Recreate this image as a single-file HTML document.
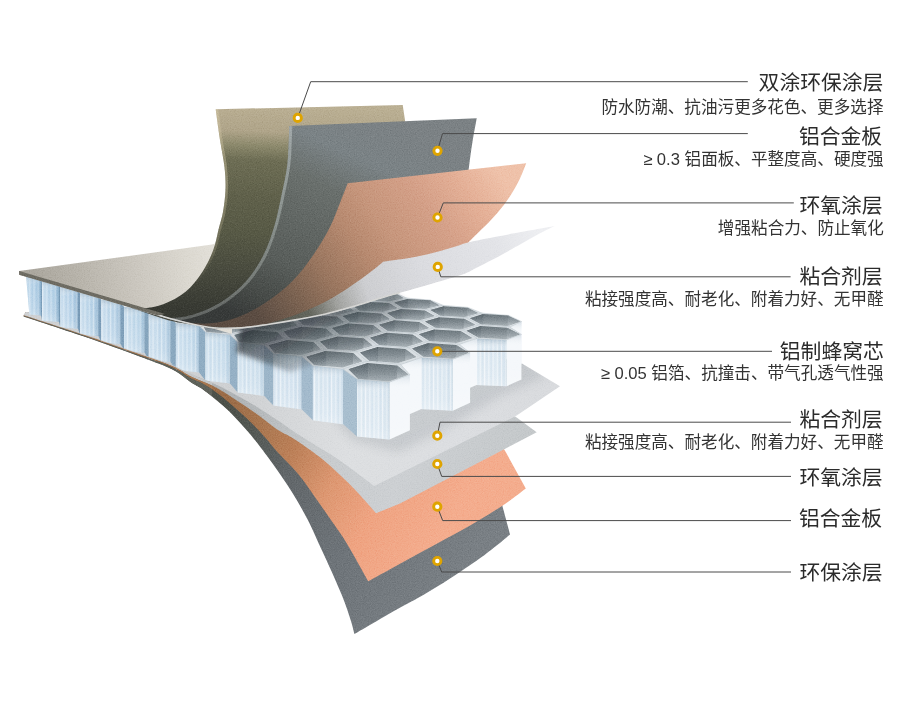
<!DOCTYPE html>
<html lang="zh-CN"><head><meta charset="utf-8"><title>铝蜂窝板结构图</title>
<style>
html,body{margin:0;padding:0;background:#fff}
body{width:900px;height:720px;position:relative;overflow:hidden;font-family:"Liberation Sans","Noto Sans CJK SC",sans-serif}
svg{position:absolute;left:0;top:0;display:block}
.lt{font-family:"Liberation Sans","Noto Sans CJK SC",sans-serif;font-size:20.8px;fill:#2b2b2b}
.ls{font-family:"Liberation Sans","Noto Sans CJK SC",sans-serif;font-size:16.6px;fill:#333}
</style></head><body>
<svg id="art" width="900" height="720" viewBox="0 0 900 720">
<defs><linearGradient id="gDG" gradientUnits="userSpaceOnUse" x1="235" y1="400" x2="470" y2="560" ><stop offset="0" stop-color="#4d514a"/><stop offset="0.12" stop-color="#555a56"/><stop offset="0.3" stop-color="#62676a"/><stop offset="0.6" stop-color="#6e7479"/><stop offset="1" stop-color="#7a8085"/></linearGradient><linearGradient id="gCB" gradientUnits="userSpaceOnUse" x1="230" y1="395" x2="450" y2="520" ><stop offset="0" stop-color="#9c6d48"/><stop offset="0.15" stop-color="#a8764f"/><stop offset="0.33" stop-color="#bd8159"/><stop offset="0.52" stop-color="#dd9872"/><stop offset="0.72" stop-color="#efa482"/><stop offset="1" stop-color="#f4ad8e"/></linearGradient><linearGradient id="gLG" gradientUnits="userSpaceOnUse" x1="240" y1="395" x2="520" y2="460" ><stop offset="0" stop-color="#b0b4b6"/><stop offset="0.3" stop-color="#c8cbcd"/><stop offset="0.6" stop-color="#cdd0d3"/><stop offset="1" stop-color="#c5c9cb"/></linearGradient><linearGradient id="gWB" gradientUnits="userSpaceOnUse" x1="240" y1="390" x2="550" y2="400" ><stop offset="0" stop-color="#cfd1d3"/><stop offset="0.35" stop-color="#dddfe1"/><stop offset="0.7" stop-color="#dcdee1"/><stop offset="1" stop-color="#d9dbde"/></linearGradient><filter id="fB4" x="-20%" y="-20%" width="140%" height="140%"><feGaussianBlur stdDeviation="5"/></filter><filter id="fB2" x="-20%" y="-20%" width="140%" height="140%"><feGaussianBlur stdDeviation="2.5"/></filter><clipPath id="cWB"><path d="M23.6 314.9C33.5 318.1 64.1 327.9 83.3 334.3C102.5 340.7 126.5 349.1 138.9 353.3C151.3 357.5 151.7 357.4 157.8 359.6C163.9 361.8 170.2 364 175.6 366.4C181 368.8 183.9 371.1 190 373.8C196.1 376.5 204.8 379.5 212.2 382.8C219.6 386.1 227 389.9 234.4 393.9C241.8 397.9 249.3 402.2 256.7 406.7C264.1 411.2 273.3 417.4 278.9 421.1C284.4 424.8 284.6 425.3 290 428.9C295.4 432.5 303.1 437.5 311.1 442.5C319.1 447.5 329.5 453.4 337.8 459C346.1 464.6 354.8 471.5 360.9 476C367 480.5 372 484.4 374.2 486.1L400 473.3L516.7 415.6L560 386.2L521.1 362.9L400 330L240 330L26 312Z"/></clipPath><linearGradient id="hF" gradientUnits="userSpaceOnUse" x1="0" y1="0" x2="8.5" y2="0" spreadMethod="repeat"><stop offset="0" stop-color="#ffffff" stop-opacity="0.32"/><stop offset="0.3" stop-color="#6f9dc0" stop-opacity="0.1"/><stop offset="0.5" stop-color="#ffffff" stop-opacity="0.26"/><stop offset="0.78" stop-color="#6f9dc0" stop-opacity="0.15"/><stop offset="1" stop-color="#ffffff" stop-opacity="0.32"/></linearGradient><linearGradient id="hFs" gradientUnits="objectBoundingBox" x1="0" y1="0" x2="0" y2="1" ><stop offset="0" stop-color="#7f98ab" stop-opacity="0.5"/><stop offset="0.22" stop-color="#ffffff" stop-opacity="0"/><stop offset="0.8" stop-color="#ffffff" stop-opacity="0.12"/><stop offset="1" stop-color="#ffffff" stop-opacity="0.3"/></linearGradient><linearGradient id="hFx" gradientUnits="objectBoundingBox" x1="0" y1="0" x2="1" y2="0" ><stop offset="0" stop-color="#ffffff" stop-opacity="0.35"/><stop offset="0.55" stop-color="#ffffff" stop-opacity="0"/><stop offset="0.8" stop-color="#4f7fa5" stop-opacity="0.12"/><stop offset="1" stop-color="#3f6f96" stop-opacity="0.4"/></linearGradient><linearGradient id="hIn" gradientUnits="objectBoundingBox" x1="0" y1="0" x2="0" y2="1" ><stop offset="0" stop-color="#6b767c"/><stop offset="0.5" stop-color="#858f95"/><stop offset="1" stop-color="#a8b1b6"/></linearGradient><linearGradient id="hInL" gradientUnits="objectBoundingBox" x1="0" y1="0" x2="0" y2="1" ><stop offset="0" stop-color="#5c676d"/><stop offset="0.5" stop-color="#747f86"/><stop offset="1" stop-color="#98a2a8"/></linearGradient><linearGradient id="hInR" gradientUnits="objectBoundingBox" x1="0" y1="0" x2="0" y2="1" ><stop offset="0" stop-color="#7d888e"/><stop offset="0.5" stop-color="#949ea4"/><stop offset="1" stop-color="#b7bfc4"/></linearGradient><clipPath id="cHon"><path d="M620 226.1L554.7 226.1C552.2 227.3 544.5 231 539.6 233.6C534.7 236.2 530 238.9 525.3 241.6C520.5 244.3 516.4 246.6 511.1 249.6C505.8 252.6 499.2 256.2 493.3 259.3C487.4 262.4 480.6 265.7 475.6 268.2C470.6 270.7 470.2 271.7 463.1 274.2C456.1 276.7 443.8 280.1 433.3 283.2C422.8 286.3 408.9 290.2 400 292.8C391.1 295.4 388 296.2 380 298.6C372 301 361.5 304.5 352.2 307.2C342.9 309.9 333.6 312.5 324.4 314.6C315.1 316.7 305.9 318.3 296.7 320C287.4 321.7 278.2 323.2 268.9 324.6C259.6 326 250.4 327.7 241.1 328.3C231.8 328.9 222.6 329.1 213.3 328.2C204.1 327.3 194.8 325 185.6 322.9C176.3 320.8 167.1 318.1 157.8 315.5C148.5 312.9 134.6 308.8 130 307.5L26.1 276.8L29.6 317L29.6 720L620 720Z"/></clipPath><linearGradient id="gHS" gradientUnits="userSpaceOnUse" x1="300" y1="300" x2="345" y2="372" ><stop offset="0" stop-color="#2f363b" stop-opacity="0.8"/><stop offset="0.45" stop-color="#3a4247" stop-opacity="0.5"/><stop offset="1" stop-color="#596066" stop-opacity="0"/></linearGradient><linearGradient id="gFP" gradientUnits="userSpaceOnUse" x1="25" y1="285" x2="225" y2="255" ><stop offset="0" stop-color="#a9a59c"/><stop offset="0.25" stop-color="#b7b3aa"/><stop offset="0.55" stop-color="#cbc7bf"/><stop offset="0.8" stop-color="#dbd8d0"/><stop offset="1" stop-color="#e5e2db"/></linearGradient><clipPath id="cTop"><path transform="translate(0,-0.8)" d="M554.7 226.1C552.2 227.3 544.5 231 539.6 233.6C534.7 236.2 530 238.9 525.3 241.6C520.5 244.3 516.4 246.6 511.1 249.6C505.8 252.6 499.2 256.2 493.3 259.3C487.4 262.4 480.6 265.7 475.6 268.2C470.6 270.7 470.2 271.7 463.1 274.2C456.1 276.7 443.8 280.1 433.3 283.2C422.8 286.3 408.9 290.2 400 292.8C391.1 295.4 388 296.2 380 298.6C372 301 361.5 304.5 352.2 307.2C342.9 309.9 333.6 312.5 324.4 314.6C315.1 316.7 305.9 318.3 296.7 320C287.4 321.7 278.2 323.2 268.9 324.6C259.6 326 250.4 327.7 241.1 328.3C231.8 328.9 222.6 329.1 213.3 328.2C204.1 327.3 194.8 325 185.6 322.9C176.3 320.8 167.1 318.1 157.8 315.5C148.5 312.9 134.6 308.8 130 307.5L19.1 274.8L0 269L0 0L900 0L900 225Z"/></clipPath><linearGradient id="gTan" gradientUnits="userSpaceOnUse" x1="300" y1="106" x2="292" y2="312" ><stop offset="0" stop-color="#bbb094"/><stop offset="0.13" stop-color="#b0a58a"/><stop offset="0.2" stop-color="#8d8a6d"/><stop offset="0.27" stop-color="#6e6e55"/><stop offset="0.45" stop-color="#60614b"/><stop offset="0.62" stop-color="#585a46"/><stop offset="0.8" stop-color="#4a4c3f"/><stop offset="0.93" stop-color="#3e4037"/><stop offset="1" stop-color="#383a33"/></linearGradient><clipPath id="cTan"><path d="M215.7 109.3C216.4 114.4 218.5 130.4 220 140C221.5 149.6 223.6 158.7 224.5 167C225.4 175.3 225.8 182.5 225.5 190C225.2 197.5 224.1 205.7 223 212C221.9 218.3 220.5 221.7 218.9 228C217.3 234.3 216.1 242.6 213.3 250C210.5 257.4 206.8 265.2 202.2 272.2C197.6 279.1 192.1 286.4 185.6 291.7C179.1 297 170.7 301.4 163.3 304.2C155.9 307 148.7 308.3 141.1 308.3C133.5 308.3 121.8 304.7 118 304L19 275L19 340L420 340L408 140L402.7 105Z"/></clipPath><linearGradient id="gTanH" gradientUnits="userSpaceOnUse" x1="0" y1="105" x2="0" y2="285" ><stop offset="0" stop-color="#d6caa9" stop-opacity="0.5"/><stop offset="0.5" stop-color="#b5ad8e" stop-opacity="0.45"/><stop offset="0.8" stop-color="#a9a285" stop-opacity="0.3"/><stop offset="1" stop-color="#a9a285" stop-opacity="0"/></linearGradient><linearGradient id="gGr" gradientUnits="userSpaceOnUse" x1="390" y1="120" x2="290" y2="340" ><stop offset="0" stop-color="#7c8285"/><stop offset="0.2" stop-color="#7b8386"/><stop offset="0.36" stop-color="#6a706d"/><stop offset="0.72" stop-color="#595e5b"/><stop offset="0.88" stop-color="#474b48"/><stop offset="1" stop-color="#373a39"/></linearGradient><clipPath id="cGray"><path d="M289.3 126C289 132.2 288.7 151.8 287.5 163C286.3 174.2 284.2 182.5 282 193C279.8 203.5 277.5 215.6 274.4 226C271.3 236.4 267.9 246.5 263.3 255.6C258.7 264.7 253.2 273.2 246.7 280.6C240.2 288 232.3 294.7 224.4 300C216.5 305.3 208.2 309.5 199.4 312.5C190.6 315.5 180.8 318 171.7 318.1C162.6 318.2 149.4 313.9 145 313L60 290L60 345L460 345C460.8 320.8 463.5 229.4 465 200C466.5 170.6 467.6 177.8 468.8 168.3C470 158.8 471 151.3 472.3 143C473.6 134.7 476 122.4 476.7 118.3Z"/></clipPath><linearGradient id="gGrH" gradientUnits="userSpaceOnUse" x1="0" y1="126" x2="0" y2="322" ><stop offset="0" stop-color="#aab1b2" stop-opacity="0.8"/><stop offset="0.5" stop-color="#98a09c" stop-opacity="0.75"/><stop offset="0.85" stop-color="#858a86" stop-opacity="0.7"/><stop offset="1" stop-color="#7d817e" stop-opacity="0.6"/></linearGradient><linearGradient id="gCu" gradientUnits="userSpaceOnUse" x1="500" y1="175" x2="270" y2="335" ><stop offset="0" stop-color="#efc2aa"/><stop offset="0.13" stop-color="#e4b097"/><stop offset="0.27" stop-color="#d5a189"/><stop offset="0.45" stop-color="#c6967c"/><stop offset="0.56" stop-color="#b78a70"/><stop offset="0.72" stop-color="#99765f"/><stop offset="0.84" stop-color="#7d6452"/><stop offset="0.93" stop-color="#6a574a"/><stop offset="1" stop-color="#5b4c42"/></linearGradient><linearGradient id="gWh" gradientUnits="userSpaceOnUse" x1="540" y1="230" x2="250" y2="330" ><stop offset="0" stop-color="#eeeff2"/><stop offset="0.15" stop-color="#e3e4e8"/><stop offset="0.4" stop-color="#dbdce0"/><stop offset="0.6" stop-color="#cdced1"/><stop offset="0.7" stop-color="#a3a4a1"/><stop offset="0.8" stop-color="#64665d"/><stop offset="1" stop-color="#4c4e46"/></linearGradient><filter id="grain" x="0" y="0" width="100%" height="100%" color-interpolation-filters="sRGB"><feTurbulence type="fractalNoise" baseFrequency="0.85" numOctaves="2" seed="7" result="n"/><feColorMatrix in="n" type="matrix" values="0.33 0.33 0.33 0 0  0.33 0.33 0.33 0 0  0.33 0.33 0.33 0 0  0 0 0 0 1"/><feComponentTransfer><feFuncR type="linear" slope="2.2" intercept="-0.6"/><feFuncG type="linear" slope="2.2" intercept="-0.6"/><feFuncB type="linear" slope="2.2" intercept="-0.6"/></feComponentTransfer></filter></defs>
<path fill="url(#gDG)" d="M23.6 316.5C33.5 319.8 64.1 329.7 83.3 336.3C102.5 342.9 126.5 351.7 138.9 356.2C151.3 360.7 151.7 360.8 157.8 363.3C163.9 365.8 170.2 368.1 175.6 371.2C181 374.3 185.8 378.8 190 381.7C194.2 384.6 197.4 385.8 201.1 388.3C204.8 390.8 208.5 393.7 212.2 396.7C215.9 399.7 219.6 402.8 223.3 406.1C227 409.4 230.7 412.9 234.4 416.7C238.1 420.5 241.9 424.6 245.6 428.9C249.3 433.1 251.9 436 256.7 442.2C261.5 448.4 268.5 457.8 274.5 466.2C280.5 474.6 287 484 292.5 492.9C298 501.8 303.3 511.2 307.6 519.6C311.9 528 314.8 534.9 318.5 543C322.2 551.1 325.9 558.8 330 568C334.1 577.2 339.6 589.4 343 598C346.4 606.6 348.6 613.6 350.5 619.6C352.4 625.6 353.8 631.7 354.4 634.1C361.4 630 385.2 616 396.7 609.5C408.2 603 414.4 600.2 423.3 595C432.2 589.8 440.7 584.5 450 578.5C459.3 572.5 471.1 564.5 478.9 559C486.7 553.5 491.8 549.3 497 545.2C502.2 541.1 507.8 536.2 510 534.4L501.7 503.3L400 440L240 360L26 312Z"/>
<path fill="url(#gCB)" d="M23.6 315.8C33.5 319.1 64.1 328.9 83.3 335.4C102.5 341.9 126.5 350.5 138.9 354.9C151.3 359.3 151.7 359.2 157.8 361.6C163.9 364 170.2 366.3 175.6 369C181 371.7 185.8 375.5 190 377.8C194.2 380.1 197.4 380.9 201.1 382.8C204.8 384.7 208.5 386.9 212.2 389.4C215.9 391.9 219.6 394.8 223.3 397.8C227 400.8 230.7 404 234.4 407.2C238.1 410.4 241.9 413.7 245.6 417.2C249.3 420.7 253 424.4 256.7 428.3C260.4 432.2 264.5 436.8 267.8 440.6C271.1 444.4 271.3 445.3 276.5 451C281.7 456.7 292.2 466.8 299 475C305.8 483.2 311.5 492.2 317 500C322.5 507.8 327.6 515.2 332 521.5C336.4 527.8 339.3 531.5 343.3 537.8C347.3 544.1 351.7 551.9 355.8 559.1C359.9 566.4 366.1 577.6 368.2 581.3C372.8 578.8 386.8 571 396 566C405.2 561 414 556.2 423.3 551.1C432.6 546 442.7 540.6 452 535.5C461.3 530.4 470.1 525.5 478.9 520.2C487.7 515 497.2 509.3 505 504C512.8 498.7 522.3 491.2 525.8 488.6L506 452.5L503.3 448L400 420L240 360L26 312Z"/>
<path fill="url(#gLG)" d="M23.6 315.3C33.5 318.6 64.1 328.4 83.3 334.8C102.5 341.2 126.5 349.7 138.9 354C151.3 358.3 151.7 358.2 157.8 360.5C163.9 362.8 170.2 365 175.6 367.6C181 370.2 183.9 373.1 190 376.1C196.1 379.1 204.8 381.8 212.2 385.6C219.6 389.4 227 394.2 234.4 398.9C241.8 403.6 249.3 408.6 256.7 413.9C264.1 419.2 272.8 426.5 278.9 430.6C285 434.7 286.4 434.1 293.3 438.5C300.2 442.9 311.1 450.2 320 457.3C328.9 464.4 339.3 474.2 346.7 481.3C354.1 488.4 359.5 494.7 364.4 500C369.3 505.3 374.1 511.1 376 513.3L400 503.6L536.7 432.2L515.6 416.7L400 380L240 350L26 312Z"/>
<path fill="url(#gWB)" d="M23.6 314.9C33.5 318.1 64.1 327.9 83.3 334.3C102.5 340.7 126.5 349.1 138.9 353.3C151.3 357.5 151.7 357.4 157.8 359.6C163.9 361.8 170.2 364 175.6 366.4C181 368.8 183.9 371.1 190 373.8C196.1 376.5 204.8 379.5 212.2 382.8C219.6 386.1 227 389.9 234.4 393.9C241.8 397.9 249.3 402.2 256.7 406.7C264.1 411.2 273.3 417.4 278.9 421.1C284.4 424.8 284.6 425.3 290 428.9C295.4 432.5 303.1 437.5 311.1 442.5C319.1 447.5 329.5 453.4 337.8 459C346.1 464.6 354.8 471.5 360.9 476C367 480.5 372 484.4 374.2 486.1L400 473.3L516.7 415.6L560 386.2L521.1 362.9L400 330L240 330L26 312Z"/>
<g clip-path="url(#cWB)"><path filter="url(#fB4)" fill="#7f878e" opacity="0.21" d="M300 380L520 352L546 376L500 396L440 432L398 452L352 440Z"/></g>
<g id="honey" clip-path="url(#cHon)"><path fill="#799cb7" d="M83.5 238.2L81.7 240.6L81.7 269.9L83.5 266.9Z"/>
<path fill="#769ab6" d="M68.5 242.6L66.3 245.2L66.3 275.6L68.5 272.4Z"/>
<path fill="#7397b4" d="M52.4 247.2L49.7 250L49.7 281.7L52.4 278.3Z"/>
<path fill="#7095b3" d="M35.1 252.2L32 255.2L32 288.3L35.1 284.6Z"/>
<path fill="#6f94b2" d="M16.5 257.5L12.8 260.8L12.8 295.5L16.5 291.4Z"/>
<path fill="#d9dfe3" stroke="#bcc6cc" stroke-width="0.5" d="M288.3 274.6L272.1 277.8L250.8 276.7L246.7 272.5L262.8 269.5L281.5 270.8Z"/>
<path fill="url(#hIn)" d="M285 274.4L271.3 277.1L253.5 276.2L249.9 272.6L263.5 270.1L280.7 271Z"/>
<path fill="url(#hInL)" d="M249.9 272.6L263.5 270.1L263.5 276.7L253.5 276.2Z"/>
<path fill="url(#hInR)" d="M280.7 271L285 274.4L280.7 275.2Z"/>
<path fill="#6f94b2" d="M-3.6 263.3L-5.7 266.5L-5.7 302.7L-3.6 298.8Z"/>
<path fill="#b4d2e9" d="M-5.7 266.5L9.5 267.8L9.5 304.1L-5.7 302.7Z"/><path fill="url(#hF)" d="M-5.7 266.5L9.5 267.8L9.5 304.1L-5.7 302.7Z"/><path fill="url(#hFs)" d="M-5.7 266.5L9.5 267.8L9.5 304.1L-5.7 302.7Z"/><path fill="url(#hFx)" opacity="1.10" d="M-5.7 266.5L9.5 267.8L9.5 304.1L-5.7 302.7Z"/>
<path fill="#d9dfe3" stroke="#bcc6cc" stroke-width="0.5" d="M315 279.9L298.7 283.3L276.4 282.1L271.3 277.6L287.6 274.4L307.2 275.9Z"/>
<path fill="url(#hIn)" d="M311.4 279.7L297.7 282.6L279.1 281.6L274.8 277.8L288.4 275.1L306.4 276Z"/>
<path fill="url(#hInL)" d="M274.8 277.8L288.4 275.1L288.4 282.1L279.1 281.6Z"/>
<path fill="url(#hInR)" d="M306.4 276L311.4 279.7L306.4 280.7Z"/>
<path fill="#6f94b2" d="M9.1 267.6L9.2 271.1L9.2 308.2L9.1 303.9Z"/>
<path fill="#b4d2e9" d="M9.2 271.1L25.1 272.5L25.1 309.7L9.2 308.2Z"/><path fill="url(#hF)" d="M9.2 271.1L25.1 272.5L25.1 309.7L9.2 308.2Z"/><path fill="url(#hFs)" d="M9.2 271.1L25.1 272.5L25.1 309.7L9.2 308.2Z"/><path fill="url(#hFx)" opacity="1.05" d="M9.2 271.1L25.1 272.5L25.1 309.7L9.2 308.2Z"/>
<path fill="#d9dfe3" stroke="#bcc6cc" stroke-width="0.5" d="M277.5 282L260.3 285.5L238.2 284.3L234.2 279.7L251.2 276.5L272.5 277.6Z"/>
<path fill="url(#hIn)" d="M274 281.9L259.6 284.8L241 283.7L237.6 279.9L251.9 277.1L269.8 278.1Z"/>
<path fill="url(#hInL)" d="M237.6 279.9L251.9 277.1L251.9 284.3L241 283.7Z"/>
<path fill="url(#hInR)" d="M269.8 278.1L274 281.9L269.8 282.7Z"/>
<path fill="#d9dfe3" stroke="#bcc6cc" stroke-width="0.5" d="M343.5 285.6L327.2 289.2L303.8 288L297.8 283.1L314.1 279.7L334.7 281.3Z"/>
<path fill="url(#hIn)" d="M339.8 285.4L326.1 288.4L306.5 287.4L301.4 283.3L315.1 280.4L334 281.4Z"/>
<path fill="url(#hInL)" d="M301.4 283.3L315.1 280.4L315.1 287.8L306.5 287.4Z"/>
<path fill="url(#hInR)" d="M334 281.4L339.8 285.4L334 286.7Z"/>
<path fill="#6f94b2" d="M24.6 272.3L25.1 276.1L25.1 314.1L24.6 309.5Z"/>
<path fill="#b4d2e9" d="M25.1 276.1L41.7 277.5L41.7 315.6L25.1 314.1Z"/><path fill="url(#hF)" d="M25.1 276.1L41.7 277.5L41.7 315.6L25.1 314.1Z"/><path fill="url(#hFs)" d="M25.1 276.1L41.7 277.5L41.7 315.6L25.1 314.1Z"/><path fill="url(#hFx)" opacity="1.00" d="M25.1 276.1L41.7 277.5L41.7 315.6L25.1 314.1Z"/>
<path fill="#d9dfe3" stroke="#bcc6cc" stroke-width="0.5" d="M305 287.9L287.7 291.6L264.5 290.3L259.5 285.4L276.7 281.9L299 283.1Z"/>
<path fill="url(#hIn)" d="M301.3 287.7L286.8 290.8L267.3 289.7L263.1 285.6L277.6 282.6L296.3 283.6Z"/>
<path fill="url(#hInL)" d="M263.1 285.6L277.6 282.6L277.6 290.3L267.3 289.7Z"/>
<path fill="url(#hInR)" d="M296.3 283.6L301.3 287.7L296.3 288.7Z"/>
<path fill="#d9dfe3" stroke="#bcc6cc" stroke-width="0.5" d="M374.3 291.7L357.9 295.7L333.4 294.2L326.3 289.1L342.6 285.4L364.3 287.1Z"/>
<path fill="url(#hIn)" d="M370.4 291.5L356.6 294.8L336.1 293.6L330.1 289.3L343.8 286.2L363.6 287.3Z"/>
<path fill="url(#hInL)" d="M330.1 289.3L343.8 286.2L343.8 294.1L336.1 293.6Z"/>
<path fill="url(#hInR)" d="M363.6 287.3L370.4 291.5L363.6 293.1Z"/>
<path fill="#7296b3" d="M41.2 277.3L42.1 281.4L42.1 320.4L41.2 315.5Z"/>
<path fill="#b7d4ea" d="M42.1 281.4L59.5 282.9L59.5 322L42.1 320.4Z"/><path fill="url(#hF)" d="M42.1 281.4L59.5 282.9L59.5 322L42.1 320.4Z"/><path fill="url(#hFs)" d="M42.1 281.4L59.5 282.9L59.5 322L42.1 320.4Z"/><path fill="url(#hFx)" opacity="0.95" d="M42.1 281.4L59.5 282.9L59.5 322L42.1 320.4Z"/>
<path fill="#d9dfe3" stroke="#bcc6cc" stroke-width="0.5" d="M265.7 290.2L247.4 294L224.3 292.7L220.5 287.6L238.6 284.1L260.7 285.3Z"/>
<path fill="url(#hIn)" d="M262 290L246.6 293.2L227.3 292.1L224 287.8L239.3 284.8L257.9 285.9Z"/>
<path fill="url(#hInL)" d="M224 287.8L239.3 284.8L239.3 292.8L227.3 292.1Z"/>
<path fill="url(#hInR)" d="M257.9 285.9L262 290L257.9 290.9Z"/>
<path fill="#d9dfe3" stroke="#bcc6cc" stroke-width="0.5" d="M334.6 294.2L317.2 298.2L292.8 296.7L286.8 291.4L304.1 287.7L327.5 289Z"/>
<path fill="url(#hIn)" d="M330.7 293.9L316.1 297.3L295.7 296.1L290.6 291.6L305.1 288.5L324.8 289.6Z"/>
<path fill="url(#hInL)" d="M290.6 291.6L305.1 288.5L305.1 296.7L295.7 296.1Z"/>
<path fill="url(#hInR)" d="M324.8 289.6L330.7 293.9L324.8 295.3Z"/>
<path fill="#d9dfe3" stroke="#bcc6cc" stroke-width="0.5" d="M407.5 298.4L391.2 302.6L365.3 301L357 295.5L373.3 291.5L396.2 293.3Z"/>
<path fill="url(#hIn)" d="M403.4 298.1L389.7 301.6L368 300.4L360.9 295.7L374.7 292.4L395.5 293.5Z"/>
<path fill="url(#hInL)" d="M360.9 295.7L374.7 292.4L374.7 300.8L368 300.4Z"/>
<path fill="url(#hInR)" d="M395.5 293.5L403.4 298.1L395.5 300.2Z"/>
<path fill="#7599b5" d="M58.9 282.7L60.4 287L60.4 327.1L58.9 321.8Z"/>
<path fill="#bad5eb" d="M60.4 287L78.6 288.7L78.6 328.9L60.4 327.1Z"/><path fill="url(#hF)" d="M60.4 287L78.6 288.7L78.6 328.9L60.4 327.1Z"/><path fill="url(#hFs)" d="M60.4 287L78.6 288.7L78.6 328.9L60.4 327.1Z"/><path fill="url(#hFx)" opacity="0.89" d="M60.4 287L78.6 288.7L78.6 328.9L60.4 327.1Z"/>
<path fill="#d9dfe3" stroke="#bcc6cc" stroke-width="0.5" d="M294 296.7L275.6 300.8L251.4 299.3L246.6 293.9L264.8 290L288 291.4Z"/>
<path fill="url(#hIn)" d="M290.2 296.4L274.7 299.9L254.4 298.6L250.3 294.1L265.7 290.8L285.2 292Z"/>
<path fill="url(#hInL)" d="M250.3 294.1L265.7 290.8L265.7 299.3L254.4 298.6Z"/>
<path fill="url(#hInR)" d="M285.2 292L290.2 296.4L285.2 297.5Z"/>
<path fill="#d9dfe3" stroke="#bcc6cc" stroke-width="0.5" d="M366.5 301L349.2 305.3L323.4 303.7L316.3 298L333.7 294L358.2 295.4Z"/>
<path fill="url(#hIn)" d="M362.4 300.7L347.9 304.3L326.3 303L320.3 298.2L334.8 294.8L355.5 296Z"/>
<path fill="url(#hInL)" d="M320.3 298.2L334.8 294.8L334.8 303.5L326.3 303Z"/>
<path fill="url(#hInR)" d="M355.5 296L362.4 300.7L355.5 302.4Z"/>
<path fill="#d9dfe3" stroke="#bcc6cc" stroke-width="0.5" d="M443.4 305.5L427.2 310.1L399.9 308.4L390.1 302.4L406.4 298.1L430.7 300.1Z"/>
<path fill="url(#hIn)" d="M439.1 305.3L425.5 309.1L402.6 307.7L394.3 302.6L408 299L429.9 300.3Z"/>
<path fill="url(#hInL)" d="M394.3 302.6L408 299L408 308L402.6 307.7Z"/>
<path fill="url(#hInR)" d="M429.9 300.3L439.1 305.3L429.9 307.8Z"/>
<path fill="#799bb7" d="M78 288.5L80 293.1L80 334.3L78 328.7Z"/>
<path fill="#bdd7eb" d="M80 293.1L99.1 294.9L99.1 336.3L80 334.3Z"/><path fill="url(#hF)" d="M80 293.1L99.1 294.9L99.1 336.3L80 334.3Z"/><path fill="url(#hFs)" d="M80 293.1L99.1 294.9L99.1 336.3L80 334.3Z"/><path fill="url(#hFx)" opacity="0.83" d="M80 293.1L99.1 294.9L99.1 336.3L80 334.3Z"/>
<path fill="#d9dfe3" stroke="#bcc6cc" stroke-width="0.5" d="M252.6 299.2L233.1 303.4L209 301.9L205.5 296.3L224.7 292.4L247.8 293.8Z"/>
<path fill="url(#hIn)" d="M248.8 299L232.4 302.5L212.2 301.2L209.2 296.5L225.4 293.2L244.8 294.4Z"/>
<path fill="url(#hInL)" d="M209.2 296.5L225.4 293.2L225.4 302.1L212.2 301.2Z"/>
<path fill="url(#hInR)" d="M244.8 294.4L248.8 299L244.8 299.8Z"/>
<path fill="#d9dfe3" stroke="#bcc6cc" stroke-width="0.5" d="M324.7 303.6L306.2 308.1L280.6 306.4L274.7 300.6L293.1 296.5L317.5 297.9Z"/>
<path fill="url(#hIn)" d="M320.6 303.4L305.1 307.1L283.7 305.7L278.7 300.8L294.1 297.3L314.7 298.6Z"/>
<path fill="url(#hInL)" d="M278.7 300.8L294.1 297.3L294.1 306.4L283.7 305.7Z"/>
<path fill="url(#hInR)" d="M314.7 298.6L320.6 303.4L314.7 304.8Z"/>
<path fill="#d9dfe3" stroke="#bcc6cc" stroke-width="0.5" d="M401.2 308.3L383.9 313L356.7 311.3L348.2 305.1L365.5 300.8L391.4 302.3Z"/>
<path fill="url(#hIn)" d="M396.9 308.1L382.3 312L359.6 310.5L352.3 305.3L366.9 301.7L388.7 303Z"/>
<path fill="url(#hInL)" d="M352.3 305.3L366.9 301.7L366.9 311L359.6 310.5Z"/>
<path fill="url(#hInR)" d="M388.7 303L396.9 308.1L388.7 310.2Z"/>
<path fill="#d9dfe3" stroke="#bcc6cc" stroke-width="0.5" d="M482.5 313.3L466.5 318.3L437.5 316.4L426.1 309.9L442.3 305.3L468 307.4Z"/>
<path fill="url(#hIn)" d="M477.9 313L464.4 317.2L440.2 315.6L430.5 310.1L444.1 306.3L467.3 307.7Z"/>
<path fill="url(#hInL)" d="M430.5 310.1L444.1 306.3L444.1 315.9L440.2 315.6Z"/>
<path fill="url(#hInR)" d="M467.3 307.7L477.9 313L467.3 316.3Z"/>
<path fill="#7d9eb9" d="M98.5 294.7L101.2 299.7L101.2 342.1L98.5 336.1Z"/>
<path fill="#c1d9ec" d="M101.2 299.7L121.3 301.6L121.3 344.3L101.2 342.1Z"/><path fill="url(#hF)" d="M101.2 299.7L121.3 301.6L121.3 344.3L101.2 342.1Z"/><path fill="url(#hFs)" d="M101.2 299.7L121.3 301.6L121.3 344.3L101.2 342.1Z"/><path fill="url(#hFx)" opacity="0.76" d="M101.2 299.7L121.3 301.6L121.3 344.3L101.2 342.1Z"/>
<path fill="#d9dfe3" stroke="#bcc6cc" stroke-width="0.5" d="M281.9 306.4L262.3 310.9L236.9 309.2L232.3 303.2L251.8 299L276 300.5Z"/>
<path fill="url(#hIn)" d="M277.9 306.1L261.4 309.9L240.1 308.5L236.2 303.5L252.6 299.9L273 301.2Z"/>
<path fill="url(#hInL)" d="M236.2 303.5L252.6 299.9L252.6 309.3L240.1 308.5Z"/>
<path fill="url(#hInR)" d="M273 301.2L277.9 306.1L273 307.2Z"/>
<path fill="#d9dfe3" stroke="#bcc6cc" stroke-width="0.5" d="M358 311.2L339.4 316L312.4 314.2L305.3 307.8L323.7 303.4L349.4 305Z"/>
<path fill="url(#hIn)" d="M353.7 310.9L338.1 314.9L315.5 313.5L309.4 308.1L324.9 304.4L346.6 305.7Z"/>
<path fill="url(#hInL)" d="M309.4 308.1L324.9 304.4L324.9 314.1L315.5 313.5Z"/>
<path fill="url(#hInR)" d="M346.6 305.7L353.7 310.9L346.6 312.7Z"/>
<path fill="#d9dfe3" stroke="#bcc6cc" stroke-width="0.5" d="M438.9 316.3L421.6 321.4L392.8 319.5L382.8 312.8L400.1 308.1L427.4 309.8Z"/>
<path fill="url(#hIn)" d="M434.3 316L419.8 320.3L395.7 318.7L387.2 313.1L401.7 309.1L424.7 310.5Z"/>
<path fill="url(#hInL)" d="M387.2 313.1L401.7 309.1L401.7 319.1L395.7 318.7Z"/>
<path fill="url(#hInR)" d="M424.7 310.5L434.3 316L424.7 318.8Z"/>
<path fill="#f5f8fb" d="M509.4 327.2L521.6 321.6L521.6 363.7L509.4 370.7Z"/><path fill="url(#hFs)" opacity="0.5" d="M509.4 327.2L521.6 321.6L521.6 363.7L509.4 370.7Z"/>
<path fill="#d9dfe3" stroke="#bcc6cc" stroke-width="0.5" d="M521.6 321.6L509.4 327.2L478.6 325.2L465.3 318L481.3 313.1L508.6 315.4Z"/>
<path fill="url(#hIn)" d="M520.2 321.5L507 326L481.2 324.3L470 318.3L483.4 314.1L507.9 315.6Z"/>
<path fill="url(#hInL)" d="M470 318.3L483.4 314.1L483.4 324.4L481.2 324.3Z"/>
<path fill="url(#hInR)" d="M507.9 315.6L520.2 321.5L507.9 325.7Z"/>
<path fill="#81a1bb" d="M120.6 301.4L124 306.8L124 350.6L120.6 344Z"/>
<path fill="#c5dced" d="M124 306.8L145.3 308.9L145.3 352.9L124 350.6Z"/><path fill="url(#hF)" d="M124 306.8L145.3 308.9L145.3 352.9L124 350.6Z"/><path fill="url(#hFs)" d="M124 306.8L145.3 308.9L145.3 352.9L124 350.6Z"/><path fill="url(#hFx)" opacity="0.69" d="M124 306.8L145.3 308.9L145.3 352.9L124 350.6Z"/>
<path fill="#d9dfe3" stroke="#bcc6cc" stroke-width="0.5" d="M238.2 309.2L217.3 313.8L192.1 312.1L188.9 305.9L209.5 301.6L233.6 303.1Z"/>
<path fill="url(#hIn)" d="M234.2 308.9L216.7 312.8L195.5 311.4L192.8 306.2L210.1 302.5L230.4 303.8Z"/>
<path fill="url(#hInL)" d="M192.8 306.2L210.1 302.5L210.1 312.3L195.5 311.4Z"/>
<path fill="url(#hInR)" d="M230.4 303.8L234.2 308.9L230.4 309.7Z"/>
<path fill="#d9dfe3" stroke="#bcc6cc" stroke-width="0.5" d="M313.7 314.1L294 319.1L267.1 317.2L261.4 310.7L281 306.1L306.6 307.8Z"/>
<path fill="url(#hIn)" d="M309.5 313.9L292.9 318L270.4 316.4L265.5 311L282 307.1L303.5 308.5Z"/>
<path fill="url(#hInL)" d="M265.5 311L282 307.1L282 317.2L270.4 316.4Z"/>
<path fill="url(#hInR)" d="M303.5 308.5L309.5 313.9L303.5 315.3Z"/>
<path fill="#d9dfe3" stroke="#bcc6cc" stroke-width="0.5" d="M394.2 319.4L375.7 324.6L347 322.7L338.4 315.8L356.9 311L384.1 312.7Z"/>
<path fill="url(#hIn)" d="M389.6 319.1L374.1 323.5L350.1 321.9L342.8 316L358.3 312L381.2 313.5Z"/>
<path fill="url(#hInL)" d="M342.8 316L358.3 312L358.3 322.4L350.1 321.9Z"/>
<path fill="url(#hInR)" d="M381.2 313.5L389.6 319.1L381.2 321.5Z"/>
<path fill="#d9dfe3" stroke="#bcc6cc" stroke-width="0.5" d="M480 325.1L463 330.6L432.3 328.5L420.5 321.2L437.7 316.1L466.6 317.9Z"/>
<path fill="url(#hIn)" d="M475.1 324.8L460.8 329.4L435.2 327.6L425.1 321.5L439.6 317.2L464 318.7Z"/>
<path fill="url(#hInL)" d="M425.1 321.5L439.6 317.2L439.6 327.9L435.2 327.6Z"/>
<path fill="url(#hInR)" d="M464 318.7L475.1 324.8L464 328.3Z"/>
<path fill="#86a5bd" d="M144.5 308.7L148.8 314.5L148.8 359.7L144.5 352.6Z"/>
<path fill="#c9deee" d="M148.8 314.5L171.3 316.8L171.3 362.2L148.8 359.7Z"/><path fill="url(#hF)" d="M148.8 314.5L171.3 316.8L171.3 362.2L148.8 359.7Z"/><path fill="url(#hFs)" d="M148.8 314.5L171.3 316.8L171.3 362.2L148.8 359.7Z"/><path fill="url(#hFx)" opacity="0.61" d="M148.8 314.5L171.3 316.8L171.3 362.2L148.8 359.7Z"/>
<path fill="#d9dfe3" stroke="#bcc6cc" stroke-width="0.5" d="M268.5 317.1L247.4 322.2L220.7 320.3L216.5 313.6L237.3 308.9L262.7 310.6Z"/>
<path fill="url(#hIn)" d="M264.2 316.8L246.6 321.1L224.2 319.5L220.5 313.9L238.1 309.9L259.5 311.3Z"/>
<path fill="url(#hInL)" d="M220.5 313.9L238.1 309.9L238.1 320.5L224.2 319.5Z"/>
<path fill="url(#hInR)" d="M259.5 311.3L264.2 316.8L259.5 318Z"/>
<path fill="#d9dfe3" stroke="#bcc6cc" stroke-width="0.5" d="M348.4 322.6L328.6 328L300.1 325.9L293 318.8L312.8 313.9L339.7 315.7Z"/>
<path fill="url(#hIn)" d="M343.9 322.3L327.2 326.8L303.4 325.1L297.3 319.1L313.9 314.9L336.7 316.5Z"/>
<path fill="url(#hInL)" d="M297.3 319.1L313.9 314.9L313.9 325.8L303.4 325.1Z"/>
<path fill="url(#hInR)" d="M336.7 316.5L343.9 322.3L336.7 324.2Z"/>
<path fill="#d9dfe3" stroke="#bcc6cc" stroke-width="0.5" d="M433.7 328.4L415.4 334.1L384.9 331.9L374.5 324.4L393 319.2L421.8 321.1Z"/>
<path fill="url(#hIn)" d="M428.9 328.1L413.4 332.8L388 331L379.2 324.7L394.7 320.3L419 321.9Z"/>
<path fill="url(#hInL)" d="M379.2 324.7L394.7 320.3L394.7 331.5L388 331Z"/>
<path fill="url(#hInR)" d="M419 321.9L428.9 328.1L419 331.1Z"/>
<path fill="#f5f8fb" d="M506.6 339.8L521.4 334.4L521.4 379.4L506.6 386.2Z"/><path fill="url(#hFs)" opacity="0.5" d="M506.6 339.8L521.4 334.4L521.4 379.4L506.6 386.2Z"/>
<path fill="#e9f1f7" d="M475.7 338.4L506.6 339.8L506.6 386.2L475.7 384.9Z"/><path fill="url(#hF)" d="M475.7 338.4L506.6 339.8L506.6 386.2L475.7 384.9Z"/><path fill="url(#hFs)" d="M475.7 338.4L506.6 339.8L506.6 386.2L475.7 384.9Z"/><path fill="url(#hFx)" opacity="0.15" d="M475.7 338.4L506.6 339.8L506.6 386.2L475.7 384.9Z"/>
<path fill="#d9dfe3" stroke="#bcc6cc" stroke-width="0.5" d="M521.4 334.4L506.6 339.8L475.7 338.4L461.7 330.3L478.7 324.8L509.4 326.8Z"/>
<path fill="url(#hIn)" d="M519.8 334.3L505.8 339.3L478.5 337.4L466.6 330.7L480.9 326L506.8 327.7Z"/>
<path fill="url(#hInL)" d="M466.6 330.7L480.9 326L480.9 337.6L478.5 337.4Z"/>
<path fill="url(#hInR)" d="M506.8 327.7L519.8 334.3L506.8 339Z"/>
<path fill="#8ba9c0" d="M170.5 316.6L175.9 322.9L175.9 369.7L170.5 362Z"/>
<path fill="#cde1f0" d="M175.9 322.9L199.7 325.4L199.7 372.5L175.9 369.7Z"/><path fill="url(#hF)" d="M175.9 322.9L199.7 325.4L199.7 372.5L175.9 369.7Z"/><path fill="url(#hFs)" d="M175.9 322.9L199.7 325.4L199.7 372.5L175.9 369.7Z"/><path fill="url(#hFx)" opacity="0.52" d="M175.9 322.9L199.7 325.4L199.7 372.5L175.9 369.7Z"/>
<path fill="#d9dfe3" stroke="#bcc6cc" stroke-width="0.5" d="M222.1 320.2L199.7 325.4L175.9 322.9L170.5 316.6L192.6 311.8L217.8 313.5Z"/>
<path fill="url(#hIn)" d="M217.9 319.9L199.1 324.2L177 322.6L174.6 316.8L193.2 312.8L214.4 314.3Z"/>
<path fill="url(#hInL)" d="M174.6 316.8L193.2 312.8L193.2 323.8L177 322.6Z"/>
<path fill="url(#hInR)" d="M214.4 314.3L217.9 319.9L214.4 320.7Z"/>
<path fill="#d9dfe3" stroke="#bcc6cc" stroke-width="0.5" d="M301.5 325.8L280.3 331.3L252 329.3L246.5 321.9L267.5 316.9L294.4 318.7Z"/>
<path fill="url(#hIn)" d="M297 325.5L279.2 330.1L255.6 328.4L250.8 322.2L268.5 318L291.1 319.5Z"/>
<path fill="url(#hInL)" d="M250.8 322.2L268.5 318L268.5 329.3L255.6 328.4Z"/>
<path fill="url(#hInR)" d="M291.1 319.5L297 325.5L291.1 327Z"/>
<path fill="#d9dfe3" stroke="#bcc6cc" stroke-width="0.5" d="M386.3 331.8L366.5 337.7L336.2 335.5L327.5 327.7L347.3 322.3L375.9 324.3Z"/>
<path fill="url(#hIn)" d="M381.5 331.5L364.9 336.4L339.6 334.5L332.1 328L348.8 323.5L372.9 325.1Z"/>
<path fill="url(#hInL)" d="M332.1 328L348.8 323.5L348.8 335.2L339.6 334.5Z"/>
<path fill="url(#hInR)" d="M372.9 325.1L381.5 331.5L372.9 334Z"/>
<path fill="#f5f8fb" d="M459 344.5L477.1 338.3L477.1 384.7L459 392.6Z"/><path fill="url(#hFs)" opacity="0.5" d="M459 344.5L477.1 338.3L477.1 384.7L459 392.6Z"/>
<path fill="#d9dfe3" stroke="#bcc6cc" stroke-width="0.5" d="M477.1 338.3L459 344.5L426.5 342.1L414.1 333.8L432.5 328.1L463.1 330.2Z"/>
<path fill="url(#hIn)" d="M472 337.9L456.7 343.1L429.6 341.1L419 334.2L434.5 329.4L460.3 331.1Z"/>
<path fill="url(#hInL)" d="M419 334.2L434.5 329.4L434.5 341.5L429.6 341.1Z"/>
<path fill="url(#hInR)" d="M460.3 331.1L472 337.9L460.3 341.9Z"/>
<path fill="#90adc3" d="M198.8 325.1L205.4 332L205.4 380.5L198.8 372.1Z"/>
<path fill="#d2e4f1" d="M205.4 332L230.8 334.8L230.8 383.6L205.4 380.5Z"/><path fill="url(#hF)" d="M205.4 332L230.8 334.8L230.8 383.6L205.4 380.5Z"/><path fill="url(#hFs)" d="M205.4 332L230.8 334.8L230.8 383.6L205.4 380.5Z"/><path fill="url(#hFx)" opacity="0.43" d="M205.4 332L230.8 334.8L230.8 383.6L205.4 380.5Z"/>
<path fill="#d9dfe3" stroke="#bcc6cc" stroke-width="0.5" d="M253.5 329.2L230.8 334.8L205.4 332L198.8 325.1L221.3 320L247.9 321.8Z"/>
<path fill="url(#hIn)" d="M249 328.8L230 333.6L206.5 331.8L203.1 325.5L222 321.1L244.4 322.7Z"/>
<path fill="url(#hInL)" d="M203.1 325.5L222 321.1L222 332.9L206.5 331.8Z"/>
<path fill="url(#hInR)" d="M244.4 322.7L249 328.8L244.4 330Z"/>
<path fill="#d9dfe3" stroke="#bcc6cc" stroke-width="0.5" d="M337.7 335.4L316.4 341.4L286.3 339.1L279.3 331.1L300.5 325.6L328.9 327.6Z"/>
<path fill="url(#hIn)" d="M332.9 335L315 340L289.9 338.1L283.8 331.4L301.7 326.7L325.7 328.5Z"/>
<path fill="url(#hInL)" d="M283.8 331.4L301.7 326.7L301.7 339L289.9 338.1Z"/>
<path fill="url(#hInR)" d="M325.7 328.5L332.9 335L325.7 337Z"/>
<path fill="#d9dfe3" stroke="#bcc6cc" stroke-width="0.5" d="M428 342L408.3 348.4L376 346L365.3 337.4L385.1 331.6L415.6 333.7Z"/>
<path fill="url(#hIn)" d="M422.8 341.6L406.3 347L379.3 344.9L370.2 337.8L386.9 332.8L412.5 334.6Z"/>
<path fill="url(#hInL)" d="M370.2 337.8L386.9 332.8L386.9 345.5L379.3 344.9Z"/>
<path fill="url(#hInR)" d="M412.5 334.6L422.8 341.6L412.5 345Z"/>
<path fill="#96b1c6" d="M229.8 334.5L237.7 342.1L237.7 392.5L229.8 383.3Z"/>
<path fill="#d8e7f2" d="M237.7 342.1L264.9 345.2L264.9 395.9L237.7 392.5Z"/><path fill="url(#hF)" d="M237.7 342.1L264.9 345.2L264.9 395.9L237.7 392.5Z"/><path fill="url(#hFs)" d="M237.7 342.1L264.9 345.2L264.9 395.9L237.7 392.5Z"/><path fill="url(#hFx)" opacity="0.33" d="M237.7 342.1L264.9 345.2L264.9 395.9L237.7 392.5Z"/>
<path fill="#d9dfe3" stroke="#bcc6cc" stroke-width="0.5" d="M287.8 339L264.9 345.2L237.7 342.1L229.8 334.5L252.5 328.9L280.7 331Z"/>
<path fill="url(#hIn)" d="M283.1 338.6L263.8 343.8L238.9 341.8L234.4 334.9L253.4 330.1L277.2 331.9Z"/>
<path fill="url(#hInL)" d="M234.4 334.9L253.4 330.1L253.4 342.9L238.9 341.8Z"/>
<path fill="url(#hInR)" d="M277.2 331.9L283.1 338.6L277.2 340.2Z"/>
<path fill="#d9dfe3" stroke="#bcc6cc" stroke-width="0.5" d="M377.5 345.8L356.1 352.5L324.1 349.9L315.2 341.1L336.6 335.1L366.8 337.3Z"/>
<path fill="url(#hIn)" d="M372.4 345.4L354.5 351L327.7 348.8L320.1 341.4L338 336.4L363.5 338.2Z"/>
<path fill="url(#hInL)" d="M320.1 341.4L338 336.4L338 349.7L327.7 348.8Z"/>
<path fill="url(#hInR)" d="M363.5 338.2L372.4 345.4L363.5 348.2Z"/>
<path fill="#f5f8fb" d="M452.8 359.2L470.1 352.9L470.1 402.8L452.8 410.7Z"/><path fill="url(#hFs)" opacity="0.5" d="M452.8 359.2L470.1 352.9L470.1 402.8L452.8 410.7Z"/>
<path fill="#e9f1f7" d="M419.9 357.5L452.8 359.2L452.8 410.7L419.9 409.1Z"/><path fill="url(#hF)" d="M419.9 357.5L452.8 359.2L452.8 410.7L419.9 409.1Z"/><path fill="url(#hFs)" d="M419.9 357.5L452.8 359.2L452.8 410.7L419.9 409.1Z"/><path fill="url(#hFx)" opacity="0.15" d="M419.9 357.5L452.8 359.2L452.8 410.7L419.9 409.1Z"/>
<path fill="#d9dfe3" stroke="#bcc6cc" stroke-width="0.5" d="M470.1 352.9L452.8 359.2L419.9 357.5L407 348.1L426.7 341.7L459.1 344.1Z"/>
<path fill="url(#hIn)" d="M468.4 352.8L452.1 358.7L423.2 356.4L412.2 348.5L428.7 343.1L456.1 345.1Z"/>
<path fill="url(#hInL)" d="M412.2 348.5L428.7 343.1L428.7 356.8L423.2 356.4Z"/>
<path fill="url(#hInR)" d="M456.1 345.1L468.4 352.8L456.1 357.2Z"/>
<path fill="#9db6c9" d="M263.8 344.8L273.4 353.2L273.4 405.6L263.8 395.5Z"/>
<path fill="#deeaf4" d="M273.4 353.2L302.6 356.6L302.6 409.4L273.4 405.6Z"/><path fill="url(#hF)" d="M273.4 353.2L302.6 356.6L302.6 409.4L273.4 405.6Z"/><path fill="url(#hFs)" d="M273.4 353.2L302.6 356.6L302.6 409.4L273.4 405.6Z"/><path fill="url(#hFx)" opacity="0.21" d="M273.4 353.2L302.6 356.6L302.6 409.4L273.4 405.6Z"/>
<path fill="#d9dfe3" stroke="#bcc6cc" stroke-width="0.5" d="M325.6 349.8L302.6 356.6L273.4 353.2L263.8 344.8L286.8 338.7L316.8 341Z"/>
<path fill="url(#hIn)" d="M320.6 349.4L301.2 355L274.6 352.8L268.7 345.2L287.9 340L313.3 342Z"/>
<path fill="url(#hInL)" d="M268.7 345.2L287.9 340L287.9 354L274.6 352.8Z"/>
<path fill="url(#hInR)" d="M313.3 342L320.6 349.4L313.3 351.5Z"/>
<path fill="#f5f8fb" d="M400.2 364.7L421.5 357.4L421.5 408.9L400.2 418.2Z"/><path fill="url(#hFs)" opacity="0.5" d="M400.2 364.7L421.5 357.4L421.5 408.9L400.2 418.2Z"/>
<path fill="#d9dfe3" stroke="#bcc6cc" stroke-width="0.5" d="M421.5 357.4L400.2 364.7L365.8 361.9L354.9 352.1L376.3 345.5L408.5 348Z"/>
<path fill="url(#hIn)" d="M416 357L398.1 363.1L369.4 360.7L360.1 352.5L378 346.9L405.2 349Z"/>
<path fill="url(#hInL)" d="M360.1 352.5L378 346.9L378 361.4L369.4 360.7Z"/>
<path fill="url(#hInR)" d="M405.2 349L416 357L405.2 360.6Z"/>
<path fill="#a4bbcd" d="M301.4 356.2L312.9 365.5L312.9 420.2L301.4 409Z"/>
<path fill="#e4eef6" d="M312.9 365.5L344.3 369.3L344.3 424.5L312.9 420.2Z"/><path fill="url(#hF)" d="M312.9 365.5L344.3 369.3L344.3 424.5L312.9 420.2Z"/><path fill="url(#hFs)" d="M312.9 365.5L344.3 369.3L344.3 424.5L312.9 420.2Z"/><path fill="url(#hFx)" opacity="0.15" d="M312.9 365.5L344.3 369.3L344.3 424.5L312.9 420.2Z"/>
<path fill="#d9dfe3" stroke="#bcc6cc" stroke-width="0.5" d="M367.5 361.7L344.3 369.3L312.9 365.5L301.4 356.2L324.5 349.4L356.5 352Z"/>
<path fill="url(#hIn)" d="M362.1 361.3L342.6 367.5L314.1 365.1L306.5 356.7L325.9 350.9L353 353.1Z"/>
<path fill="url(#hInL)" d="M306.5 356.7L325.9 350.9L325.9 366.1L314.1 365.1Z"/>
<path fill="url(#hInR)" d="M353 353.1L362.1 361.3L353 364.2Z"/>
<path fill="#a9bfcf" d="M343 368.9L357 379.1L357 436.4L343 424Z"/>
<path fill="#f5f8fb" d="M389.5 382.1L409.9 374.7L409.9 430.3L389.5 439.6Z"/><path fill="url(#hFs)" opacity="0.5" d="M389.5 382.1L409.9 374.7L409.9 430.3L389.5 439.6Z"/>
<path fill="#e9f1f7" d="M357 379.1L389.5 382.1L389.5 439.6L357 436.4Z"/><path fill="url(#hF)" d="M357 379.1L389.5 382.1L389.5 439.6L357 436.4Z"/><path fill="url(#hFs)" d="M357 379.1L389.5 382.1L389.5 439.6L357 436.4Z"/><path fill="url(#hFx)" opacity="0.15" d="M357 379.1L389.5 382.1L389.5 439.6L357 436.4Z"/>
<path fill="#d9dfe3" stroke="#bcc6cc" stroke-width="0.5" d="M409.9 374.7L389.5 382.1L357 379.1L343 368.9L366.2 361.3L400.5 364.2Z"/>
<path fill="url(#hIn)" d="M408.2 374.5L388.8 381.5L358.1 378.7L348.6 369.3L368 363L397 365.4Z"/>
<path fill="url(#hInL)" d="M348.6 369.3L368 363L368 379.6L358.1 378.7Z"/>
<path fill="url(#hInR)" d="M397 365.4L408.2 374.5L397 378.5Z"/>
<path filter="url(#fB2)" fill="url(#gHS)" d="M398 296C395 296.7 387.6 298.2 380 300C372.4 301.8 366.1 304 352.2 307C338.3 310 315.2 314.8 296.7 318C278.2 321.2 250.4 324.7 241.1 326L236 352L290 372L350 352L396 330L418 308Z"/>
</g>
<path fill="#fff" d="M23.6 316.5C33.5 319.8 64.1 329.7 83.3 336.3C102.5 342.9 126.5 351.7 138.9 356.2C151.3 360.7 151.7 360.8 157.8 363.3C163.9 365.8 170.2 368.1 175.6 371.2C181 374.3 185.8 378.8 190 381.7C194.2 384.6 197.4 385.8 201.1 388.3C204.8 390.8 210.3 395.3 212.2 396.7L212.2 450L15 450L15 316.5Z"/>
<path fill="#c4c7c9" d="M23.6 315.3C33.5 318.6 64.1 328.4 83.3 334.8C102.5 341.2 126.5 349.7 138.9 354C151.3 358.3 151.7 358.2 157.8 360.5C163.9 362.8 170.2 365 175.6 367.6C181 370.2 183.9 373.1 190 376.1C196.1 379.1 208.5 384 212.2 385.6L212.2 382.8C208.5 381.3 196.1 376.5 190 373.8C183.9 371.1 181 368.8 175.6 366.4C170.2 364 163.9 361.8 157.8 359.6C151.7 357.4 151.3 357.5 138.9 353.3C126.5 349.1 102.5 340.7 83.3 334.3C64.1 327.9 33.5 318.1 23.6 314.9Z"/>
<path fill="#a5764f" d="M23.6 315.8C33.5 319.1 64.1 328.9 83.3 335.4C102.5 341.9 126.5 350.5 138.9 354.9C151.3 359.3 151.7 359.2 157.8 361.6C163.9 364 170.2 366.3 175.6 369C181 371.7 185.8 375.5 190 377.8C194.2 380.1 197.4 380.9 201.1 382.8C204.8 384.7 210.3 388.3 212.2 389.4L212.2 385.6C208.5 384 196.1 379.1 190 376.1C183.9 373.1 181 370.2 175.6 367.6C170.2 365 163.9 362.8 157.8 360.5C151.7 358.2 151.3 358.3 138.9 354C126.5 349.7 102.5 341.2 83.3 334.8C64.1 328.4 33.5 318.6 23.6 315.3Z"/>
<path fill="#5f625a" d="M23.6 316.5C33.5 319.8 64.1 329.7 83.3 336.3C102.5 342.9 126.5 351.7 138.9 356.2C151.3 360.7 151.7 360.8 157.8 363.3C163.9 365.8 170.2 368.1 175.6 371.2C181 374.3 185.8 378.8 190 381.7C194.2 384.6 197.4 385.8 201.1 388.3C204.8 390.8 210.3 395.3 212.2 396.7L212.2 389.4C210.3 388.3 204.8 384.7 201.1 382.8C197.4 380.9 194.2 380.1 190 377.8C185.8 375.5 181 371.7 175.6 369C170.2 366.3 163.9 364 157.8 361.6C151.7 359.2 151.3 359.3 138.9 354.9C126.5 350.5 102.5 341.9 83.3 335.4C64.1 328.9 33.5 319.1 23.6 315.8Z"/>
<path fill="url(#gFP)" d="M19.1 271.1L212 244.6L232 238L232 334L160 313L19.1 274.8Z"/>
<g clip-path="url(#cTop)" transform="translate(0,0)">
<path fill="url(#gTan)" d="M215.7 109.3C216.4 114.4 218.5 130.4 220 140C221.5 149.6 223.6 158.7 224.5 167C225.4 175.3 225.8 182.5 225.5 190C225.2 197.5 224.1 205.7 223 212C221.9 218.3 220.5 221.7 218.9 228C217.3 234.3 216.1 242.6 213.3 250C210.5 257.4 206.8 265.2 202.2 272.2C197.6 279.1 192.1 286.4 185.6 291.7C179.1 297 170.7 301.4 163.3 304.2C155.9 307 148.7 308.3 141.1 308.3C133.5 308.3 121.8 304.7 118 304L19 275L19 340L420 340L408 140L402.7 105Z"/>
<g clip-path="url(#cTan)"><path fill="none" stroke="url(#gTanH)" stroke-width="5" d="M215.7 109.3C216.4 114.4 218.5 130.4 220 140C221.5 149.6 223.6 158.7 224.5 167C225.4 175.3 225.8 182.5 225.5 190C225.2 197.5 224.1 205.7 223 212C221.9 218.3 220.5 221.7 218.9 228C217.3 234.3 216.1 242.6 213.3 250C210.5 257.4 206.8 265.2 202.2 272.2C197.6 279.1 188.4 288.4 185.6 291.7"/></g>
<path fill="url(#gGr)" d="M289.3 126C289 132.2 288.7 151.8 287.5 163C286.3 174.2 284.2 182.5 282 193C279.8 203.5 277.5 215.6 274.4 226C271.3 236.4 267.9 246.5 263.3 255.6C258.7 264.7 253.2 273.2 246.7 280.6C240.2 288 232.3 294.7 224.4 300C216.5 305.3 208.2 309.5 199.4 312.5C190.6 315.5 180.8 318 171.7 318.1C162.6 318.2 149.4 313.9 145 313L60 290L60 345L460 345C460.8 320.8 463.5 229.4 465 200C466.5 170.6 467.6 177.8 468.8 168.3C470 158.8 471 151.3 472.3 143C473.6 134.7 476 122.4 476.7 118.3Z"/>
<g clip-path="url(#cGray)"><path fill="none" stroke="url(#gGrH)" stroke-width="6" d="M289.3 126C289 132.2 288.7 151.8 287.5 163C286.3 174.2 284.2 182.5 282 193C279.8 203.5 277.5 215.6 274.4 226C271.3 236.4 267.9 246.5 263.3 255.6C258.7 264.7 253.2 273.2 246.7 280.6C240.2 288 232.3 294.7 224.4 300C216.5 305.3 208.2 309.5 199.4 312.5C190.6 315.5 180.8 318 171.7 318.1C162.6 318.2 149.4 313.9 145 313"/></g>
<path fill="url(#gCu)" d="M347.7 183.3C346.6 186.1 344.1 192.7 341.1 200C338.2 207.3 334.6 217.8 330 227C325.4 236.2 319.6 245.9 313.3 255C307 264.1 300.1 273.5 292 281.5C283.9 289.5 274.2 297 265 303C255.8 309 246.5 314.1 237 317.5C227.5 320.9 218.1 323 207.8 323.6C197.5 324.2 180.5 321.4 175 321L100 300L100 345L460 345L468.4 242.4C470.2 240.6 475.2 235.7 479.1 231.8C483 228 487.8 223.5 491.6 219.3C495.5 215.2 498.9 211.1 502.2 206.9C505.4 202.8 508.1 199.2 511.1 194.4C514.1 189.7 517.5 183.6 520 178.4C522.5 173.2 525.2 165.8 526.2 163.3Z"/>
</g>
<path fill="url(#gWh)" d="M554.7 226.1C545.6 227.8 514.4 233.3 500 236C485.6 238.7 475.4 240.8 468.4 242.4C461.4 244 463.3 244 457.8 245.7C452.3 247.3 443 250.4 435.6 252.3C428.2 254.2 420.7 255.9 413.3 257.3C405.9 258.7 396 259.9 391 260.6C386 261.4 384.6 261.6 383.3 261.8C380.9 263.7 375 268.8 368.9 273.3C362.8 277.8 354.1 284.1 346.7 288.9C339.3 293.7 331.8 298.3 324.4 302.2C317 306.1 309.6 309.2 302.2 312.2C294.8 315.2 287 317.8 280 320C273 322.2 266.5 323.9 260 325.2C253.5 326.5 250.3 327.7 241.1 327.8C231.9 327.9 216 327 205 326C194 325 184.2 323.8 175 321.8C165.8 319.8 157.5 316.6 150 314.2C142.5 311.8 133.3 308.6 130 307.5C134.6 308.8 148.5 312.9 157.8 315.5C167.1 318.1 176.3 320.8 185.6 322.9C194.8 325 204.1 327.3 213.3 328.2C222.6 329.1 231.8 328.9 241.1 328.3C250.4 327.7 259.6 326 268.9 324.6C278.2 323.2 287.4 321.7 296.7 320C305.9 318.3 315.1 316.7 324.4 314.6C333.6 312.5 342.9 309.9 352.2 307.2C361.5 304.5 372 301 380 298.6C388 296.2 391.1 295.4 400 292.8C408.9 290.2 422.8 286.3 433.3 283.2C443.8 280.1 456.1 276.7 463.1 274.2C470.2 271.7 470.6 270.7 475.6 268.2C480.6 265.7 487.4 262.4 493.3 259.3C499.2 256.2 505.8 252.6 511.1 249.6C516.4 246.6 520.5 244.3 525.3 241.6C530 238.9 534.7 236.2 539.6 233.6C544.5 231 552.2 227.3 554.7 226.1Z"/>
<path fill="none" stroke="#d6d6d4" stroke-width="1.6" d="M400 292.4C396.7 293.4 388 295.8 380 298.2C372 300.6 361.5 304.1 352.2 306.8C342.9 309.5 333.6 312.1 324.4 314.2C315.1 316.3 305.9 317.9 296.7 319.6C287.4 321.3 278.2 322.8 268.9 324.2C259.6 325.6 250.4 327.3 241.1 327.9C231.8 328.5 222.6 328.7 213.3 327.8C204.1 326.9 194.8 324.6 185.6 322.5C176.3 320.4 162.4 316.3 157.8 315.1"/>
<path d="M19.1 271.1L19.1 274.8L130 307.5L157.8 315.5L165 314L110 297.8Z" fill="#6e6c63"/>
<rect x="15" y="100" width="550" height="540" filter="url(#grain)" opacity="0.22" style="mix-blend-mode:soft-light"/>
</svg>
<svg id="labels" width="900" height="720" viewBox="0 0 900 720">
<path d="M297.75 117.9L310.7 81.7H747.8" fill="none" stroke="#4a4a4a" stroke-width="1"/>
<path d="M437.5 150.8L442.5 133.6H747.8" fill="none" stroke="#4a4a4a" stroke-width="1"/>
<path d="M437.5 217.5L443.3 202.9H793.8" fill="none" stroke="#4a4a4a" stroke-width="1"/>
<path d="M437.75 266.9L440.8 276.8H790.6" fill="none" stroke="#4a4a4a" stroke-width="1"/>
<path d="M437.3 351.3H772" fill="none" stroke="#4a4a4a" stroke-width="1"/>
<path d="M437.3 435.7L440 422.2H791" fill="none" stroke="#4a4a4a" stroke-width="1"/>
<path d="M437.3 464L441.7 476.4H791" fill="none" stroke="#4a4a4a" stroke-width="1"/>
<path d="M437.3 506.7L442.7 520.6H791" fill="none" stroke="#4a4a4a" stroke-width="1"/>
<path d="M437.3 561L441.7 572H791" fill="none" stroke="#4a4a4a" stroke-width="1"/>
<circle cx="297.75" cy="117.9" r="3.65" fill="#fff" stroke="#dfa400" stroke-width="2.9"/>
<circle cx="437.5" cy="150.8" r="3.65" fill="#fff" stroke="#dfa400" stroke-width="2.9"/>
<circle cx="437.5" cy="217.5" r="3.65" fill="#fff" stroke="#dfa400" stroke-width="2.9"/>
<circle cx="437.75" cy="266.9" r="3.65" fill="#fff" stroke="#dfa400" stroke-width="2.9"/>
<circle cx="437.3" cy="351.3" r="3.65" fill="#fff" stroke="#dfa400" stroke-width="2.9"/>
<circle cx="437.3" cy="435.7" r="3.65" fill="#fff" stroke="#dfa400" stroke-width="2.9"/>
<circle cx="437.3" cy="464" r="3.65" fill="#fff" stroke="#dfa400" stroke-width="2.9"/>
<circle cx="437.3" cy="506.7" r="3.65" fill="#fff" stroke="#dfa400" stroke-width="2.9"/>
<circle cx="437.3" cy="561" r="3.65" fill="#fff" stroke="#dfa400" stroke-width="2.9"/>
<text class="lt" x="883.4" y="90" text-anchor="end">双涂环保涂层</text>
<text class="ls" x="883.5" y="112.6" text-anchor="end">防水防潮、抗油污更多花色、更多选择</text>
<text class="lt" x="882.1" y="144.3" text-anchor="end">铝合金板</text>
<text class="ls" x="883.7" y="165.4" text-anchor="end">≥ 0.3 铝面板、平整度高、硬度强</text>
<text class="lt" x="882.6" y="212.5" text-anchor="end">环氧涂层</text>
<text class="ls" x="883.8" y="233.8" text-anchor="end">增强粘合力、防止氧化</text>
<text class="lt" x="882.6" y="283.9" text-anchor="end">粘合剂层</text>
<text class="ls" x="883.6" y="304.6" text-anchor="end">粘接强度高、耐老化、附着力好、无甲醛</text>
<text class="lt" x="883.8" y="359" text-anchor="end">铝制蜂窝芯</text>
<text class="ls" x="883.7" y="379.3" text-anchor="end">≥ 0.05 铝箔、抗撞击、带气孔透气性强</text>
<text class="lt" x="882.6" y="427" text-anchor="end">粘合剂层</text>
<text class="ls" x="883.6" y="448.2" text-anchor="end">粘接强度高、耐老化、附着力好、无甲醛</text>
<text class="lt" x="882.6" y="485" text-anchor="end">环氧涂层</text>
<text class="lt" x="882.1" y="526" text-anchor="end">铝合金板</text>
<text class="lt" x="882.6" y="580.1" text-anchor="end">环保涂层</text>
</svg>
</body></html>
